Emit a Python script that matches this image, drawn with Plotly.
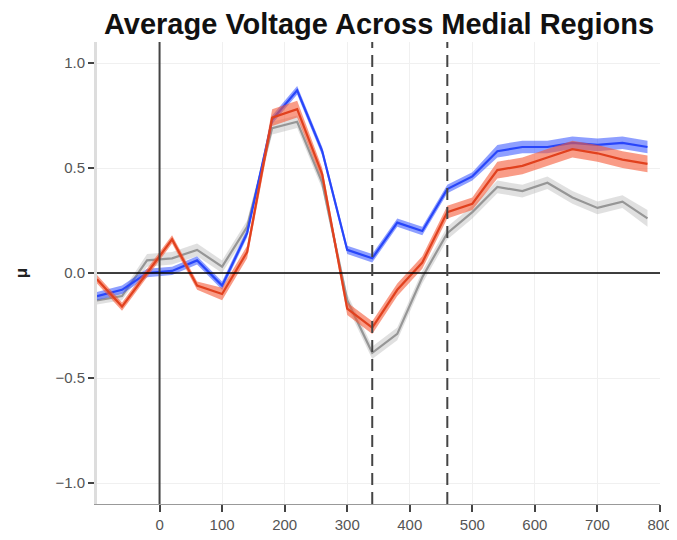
import plotly.graph_objects as go

# time points (ms)
time_ms = [-100, -60, -20, 20, 60, 100, 140, 180, 220, 260, 300, 340,
           380, 420, 460, 500, 540, 580, 620, 660, 700, 740, 780]

blue_mean = [-0.11, -0.08, 0.00, 0.01, 0.06, -0.06, 0.19, 0.73, 0.87, 0.58, 0.11, 0.07,
             0.24, 0.20, 0.40, 0.46, 0.58, 0.60, 0.60, 0.62, 0.61, 0.62, 0.60]
blue_se = [0.02, 0.02, 0.02, 0.02, 0.02, 0.02, 0.02, 0.02, 0.02, 0.02, 0.02, 0.02,
           0.02, 0.02, 0.02, 0.02, 0.03, 0.03, 0.03, 0.03, 0.03, 0.03, 0.03]

red_mean = [-0.03, -0.16, 0.00, 0.16, -0.06, -0.10, 0.10, 0.74, 0.78, 0.47, -0.17, -0.26,
            -0.08, 0.05, 0.29, 0.33, 0.49, 0.51, 0.55, 0.59, 0.57, 0.54, 0.52]
red_se = [0.02, 0.02, 0.02, 0.02, 0.02, 0.03, 0.03, 0.04, 0.04, 0.03, 0.03, 0.03,
          0.03, 0.03, 0.03, 0.03, 0.04, 0.04, 0.04, 0.04, 0.04, 0.04, 0.04]

gray_mean = [-0.13, -0.11, 0.06, 0.07, 0.11, 0.03, 0.22, 0.69, 0.72, 0.43, -0.13, -0.38,
             -0.29, -0.02, 0.19, 0.29, 0.41, 0.39, 0.43, 0.36, 0.31, 0.34, 0.26]
gray_se = [0.02, 0.02, 0.03, 0.03, 0.03, 0.03, 0.03, 0.03, 0.03, 0.03, 0.03, 0.03,
           0.03, 0.03, 0.03, 0.03, 0.03, 0.03, 0.03, 0.03, 0.03, 0.03, 0.04]

x_ticks = [0, 100, 200, 300, 400, 500, 600, 700, 800]
y_ticks = [-1.0, -0.5, 0.0, 0.5, 1.0]
event_lines = [340, 460]

series = [
    (gray_mean, gray_se, "rgb(150,150,150)", "rgba(165,165,165,0.35)"),
    (blue_mean, blue_se, "rgb(40,70,250)", "rgba(50,80,255,0.55)"),
    (red_mean, red_se, "rgb(225,65,30)", "rgba(245,90,55,0.6)"),
]

fig = go.Figure()
for mean, se, line_col, band_col in series:
    upper = [m + s for m, s in zip(mean, se)]
    lower = [m - s for m, s in zip(mean, se)]
    fig.add_trace(go.Scatter(
        x=time_ms + time_ms[::-1], y=upper + lower[::-1],
        fill="toself", fillcolor=band_col, line=dict(width=0),
        mode="lines", hoverinfo="skip", showlegend=False))
    fig.add_trace(go.Scatter(
        x=time_ms, y=mean, mode="lines",
        line=dict(color=line_col, width=2.2), showlegend=False))

# reference lines
fig.add_vline(x=0, line=dict(color="#444444", width=2))
fig.add_hline(y=0, line=dict(color="black", width=1.5))
for t in event_lines:
    fig.add_vline(x=t, line=dict(color="#444444", width=2, dash="12px,7px"))

# page body has an 8px margin, so margins are shifted to compensate
fig.update_layout(
    width=677, height=540,
    margin=dict(l=89, r=25, t=34, b=44),
    plot_bgcolor="white", paper_bgcolor="white",
    font=dict(family="Liberation Sans, Arial, sans-serif", size=15, color="#555555"),
    title=dict(text="<b>Average Voltage Across Medial Regions</b>",
               x=0.548, xanchor="center", y=0.97, yanchor="middle",
               font=dict(size=29, color="#111111")),
)
fig.update_xaxes(
    range=[-100, 800], tickvals=x_ticks,
    showgrid=True, gridcolor="#f0f0f0", gridwidth=1,
    showline=True, linecolor="#999999", linewidth=1,
    ticks="outside", ticklen=7, tickcolor="#444444", tickwidth=1.5,
    zeroline=False,
)
fig.update_yaxes(
    range=[-1.1, 1.1], tickvals=y_ticks, tickformat=".1f",
    showgrid=True, gridcolor="#f0f0f0", gridwidth=1,
    showline=True, linecolor="#dddddd", linewidth=3,
    ticks="outside", ticklen=6, tickcolor="#444444", tickwidth=1.5,
    zeroline=False,
    title=dict(text="<b>μ</b>", font=dict(size=17, color="#222222"), standoff=24),
)

fig.write_html("out.html")
